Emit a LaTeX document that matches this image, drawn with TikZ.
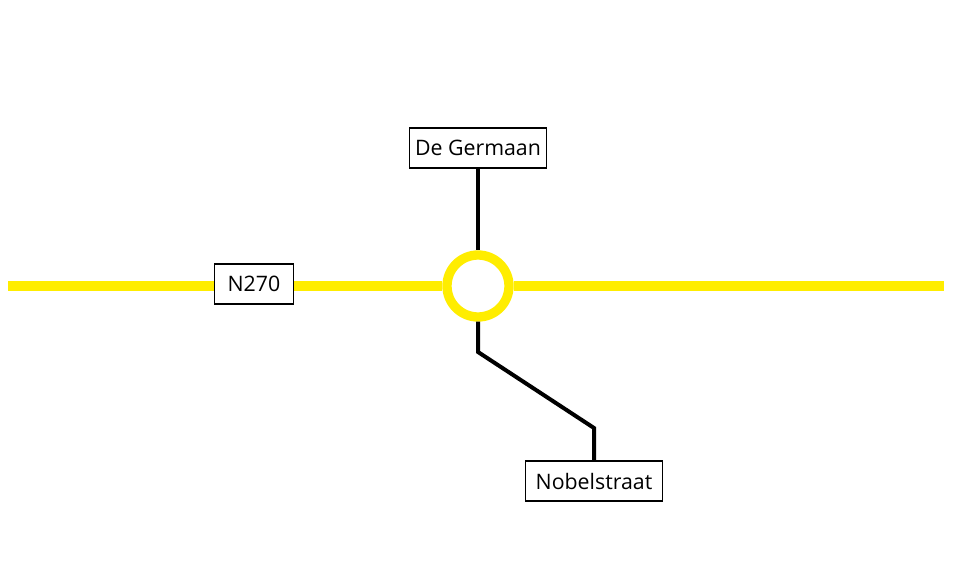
\documentclass[tikz,border=0pt]{standalone}
\usepackage{fontspec}
\setmainfont{Open Sans}
\usepackage{xcolor}
\begin{document}
\begin{tikzpicture}[x=0.75pt,y=-0.75pt,
  roadname/.style={draw=black,line width=1.1pt,fill=white,minimum height=30pt,inner xsep=4pt,font=\fontsize{16}{18}\selectfont},
  mainroad/.style={line width=7.5pt,draw=roadyellow},
  sideroad/.style={line width=3pt,draw=black}]
\definecolor{roadyellow}{HTML}{FFED00}
\useasboundingbox (0,0) rectangle (979,570);
\coordinate (westend) at (8,286);
\coordinate (eastend) at (944,286);
\coordinate (bendA) at (478,352);
\coordinate (bendB) at (594,428);
\node [circle,minimum size=46.5pt,line width=7pt,draw=roadyellow,fill=white] (ring) at (478,286) {};
\draw [mainroad] (westend) -- (ring);
\draw [mainroad] (ring) -- (eastend);
\node [roadname] (germaan) at (478,148) {De Germaan};
\node [roadname,minimum width=103pt] (nobel) at (594,481) {Nobelstraat};
\node [roadname,minimum width=59pt] (nroad) at (254,284) {N270};
\draw [sideroad] (germaan) -- (ring);
\draw [sideroad] (ring) -- (bendA) -- (bendB) -- (nobel);
\end{tikzpicture}
\end{document}
